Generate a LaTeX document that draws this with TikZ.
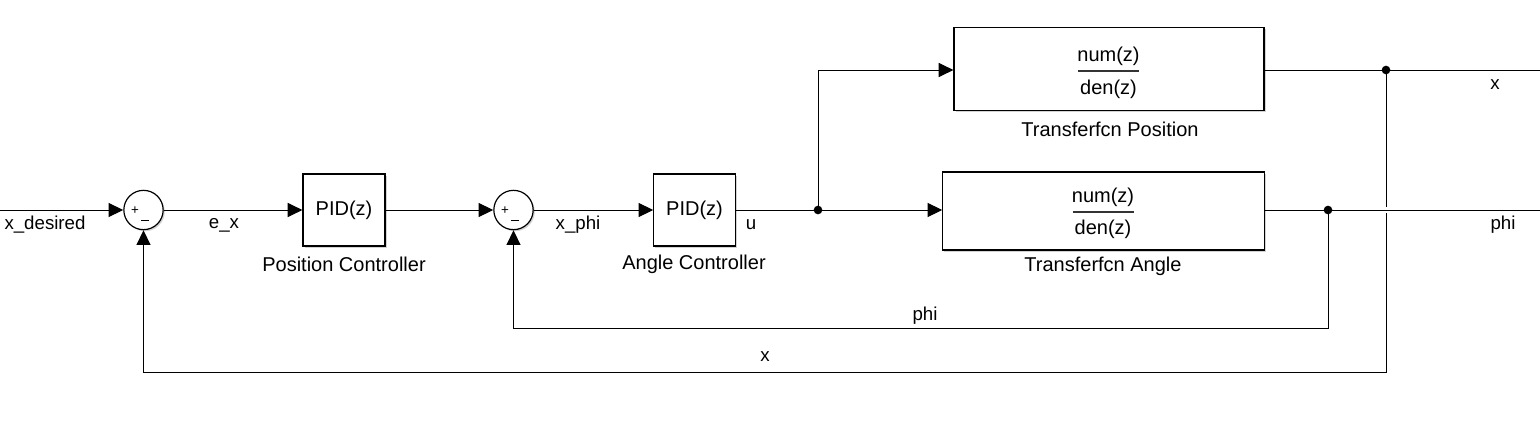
\documentclass[tikz,border=0pt]{standalone}
\usepackage{fontspec}
\setmainfont{Liberation Sans}
\usetikzlibrary{arrows.meta,shadows}
\begin{document}
\begin{tikzpicture}[x=0.75pt,y=-0.75pt,
  blk/.style={draw,line width=0.9pt,fill=white,inner sep=0pt,
    font=\fontsize{15}{18}\selectfont,
    drop shadow={shadow xshift=1.2pt,shadow yshift=-1.2pt,opacity=0.35,fill=gray}},
  sumc/.style={circle,draw,line width=0.9pt,fill=white,inner sep=0pt,minimum size=29.5pt,
    drop shadow={shadow xshift=1.2pt,shadow yshift=-1.2pt,opacity=0.35,fill=gray}},
  sig/.style={line width=0.75pt,-{Triangle[length=11pt,width=10.5pt]}},
  wire/.style={line width=0.75pt},
  frac/.style={font=\fontsize{15}{18}\selectfont,inner sep=0pt},
  fbar/.style={line width=1pt,black!80},
  lbl/.style={font=\fontsize{14}{16}\selectfont,inner sep=0pt},
  blbl/.style={font=\fontsize{15}{17}\selectfont,inner sep=0pt},
  sgn/.style={font=\fontsize{10}{11}\selectfont,inner sep=0pt},
  dotp/.style={circle,fill,inner sep=0pt,minimum size=6.5pt}]
\useasboundingbox (0,0) rectangle (1540,429);
% blocks
\node[sumc] (s1) at (143.5,210) {};
\node[sgn] (s1p) at (135,211) {+};
\node[sgn] (s1m) at (145,220.5) {\rule{6pt}{1.2pt}};
\node[sumc] (s2) at (513.5,210) {};
\node[sgn] (s2p) at (505,211) {+};
\node[sgn] (s2m) at (515,220.5) {\rule{6pt}{1.2pt}};
\node[blk,minimum width=61.5pt,minimum height=54pt] (pid1) at (344,210) {PID(z)};
\node[blk,minimum width=61pt,minimum height=54pt] (pid2) at (694.5,210) {PID(z)};
\node[blk,minimum width=232.5pt,minimum height=62pt] (tfp) at (1109,69) {};
\node[blk,minimum width=241pt,minimum height=58.5pt] (tfa) at (1103.5,211) {};
\node[frac] (tfpn) at (1108.5,56) {num(z)};
\node[frac] (tfpd) at (1108.5,89) {den(z)};
\coordinate (tfpb1) at (1078,71);
\coordinate (tfpb2) at (1139,71);
\draw[fbar] (tfpb1) -- (tfpb2);
\node[frac] (tfan) at (1103,197) {num(z)};
\node[frac] (tfad) at (1103,229) {den(z)};
\coordinate (tfab1) at (1072.5,212);
\coordinate (tfab2) at (1133.5,212);
\draw[fbar] (tfab1) -- (tfab2);
% block labels
\node[blbl] (l1) at (344,264) {Position Controller};
\node[blbl] (l2) at (694,264) {Angle Controller};
\node[blbl] (l3) at (1110,129) {Transferfcn Position};
\node[blbl] (l4) at (1103,266) {Transferfcn Angle};
% coordinates
\coordinate (in) at (0,210);
\coordinate (br) at (818,210);
\coordinate (dphi) at (1328,210);
\coordinate (dx) at (1386,70);
\coordinate (ox) at (1540,70);
\coordinate (ophi) at (1540,210);
\coordinate (cphi) at (1328,328);
\coordinate (cx) at (1386,372);
\coordinate (gapa) at (1386,207);
\coordinate (gapb) at (1386,213);
% connectors
\draw[sig] (in) -- (s1.west);
\draw[sig] (s1.east) -- (pid1.west);
\draw[sig] (pid1.east) -- (s2.west);
\draw[sig] (s2.east) -- (pid2.west);
\draw[sig] (pid2.east) -- (tfa.west |- br);
\draw[sig] (br) |- (tfp.west |- dx);
\draw[wire] (tfp.east |- dx) -- (ox);
\draw[wire] (tfa.east |- dphi) -- (ophi);
\draw[sig] (dphi) -- (cphi) -| (s2.south);
\draw[wire] (dx) -- (gapa);
\draw[sig] (gapb) -- (cx) -| (s1.south);
\node[dotp] (d1) at (br) {};
\node[dotp] (d2) at (dphi) {};
\node[dotp] (d3) at (dx) {};
% signal labels
\node[lbl] (t1) at (45,225) {x\_desired};
\node[lbl] (t2) at (224,225) {e\_x};
\node[lbl] (t3) at (578,225) {x\_phi};
\node[lbl] (t4) at (751,225) {u};
\node[lbl] (t5) at (1503,225) {phi};
\node[lbl] (t6) at (1495,85) {x};
\node[lbl] (t7) at (925,316) {phi};
\node[lbl] (t8) at (765,357) {x};
\end{tikzpicture}
\end{document}
